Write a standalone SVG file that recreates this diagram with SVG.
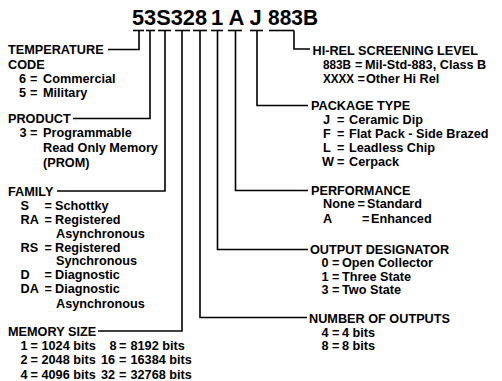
<svg xmlns="http://www.w3.org/2000/svg" width="502" height="381" viewBox="0 0 502 381">
<style>
text{font-family:"Liberation Sans",Arial,sans-serif;font-weight:bold;font-size:12.7px;fill:#000}
.t{font-size:22px}
.c line,.c polyline{stroke:#000;stroke-width:1.6;fill:none}
</style>
<rect width="502" height="381" fill="#fff"/>
<g id="partnumber">
<text class="t" x="132" y="25" textLength="75" lengthAdjust="spacingAndGlyphs">53S328</text>
<text class="t" x="211" y="25">1</text>
<text class="t" x="228.5" y="25">A</text>
<text class="t" x="249.5" y="25">J</text>
<text class="t" x="268" y="25" textLength="50" lengthAdjust="spacingAndGlyphs">883B</text>
</g>
<g class="c" id="connectors">
<line x1="133" y1="30.5" x2="144" y2="30.5"/>
<line x1="146" y1="30.5" x2="155" y2="30.5"/>
<line x1="158" y1="30.5" x2="171" y2="30.5"/>
<line x1="175" y1="30.5" x2="190" y2="30.5"/>
<line x1="193" y1="30.5" x2="207" y2="30.5"/>
<line x1="211" y1="30.5" x2="223" y2="30.5"/>
<line x1="228" y1="30.5" x2="242" y2="30.5"/>
<line x1="250" y1="30.5" x2="263" y2="30.5"/>
<line x1="269" y1="30.5" x2="294" y2="30.5"/>
<polyline points="139,30.5 139,49.5 108,49.5"/>
<polyline points="150,30.5 150,118.5 73,118.5"/>
<polyline points="165,30.5 165,191 57,191"/>
<polyline points="182,30.5 182,331 98,331"/>
<polyline points="200,30.5 200,317.5 307,317.5"/>
<polyline points="217.5,30.5 217.5,249.5 308,249.5"/>
<polyline points="235.5,30.5 235.5,190.5 308,190.5"/>
<polyline points="257,30.5 257,105.5 308,105.5"/>
<polyline points="294,30.5 294,49 310,49"/>
</g>
<g id="temperature">
<text x="8" y="54">TEMPERATURE</text>
<text x="8" y="68.5">CODE</text>
<text y="82.7"><tspan x="19">6</tspan><tspan x="30">=</tspan><tspan x="43">Commercial</tspan></text>
<text y="96.7"><tspan x="19">5</tspan><tspan x="30">=</tspan><tspan x="43">Military</tspan></text>
</g>
<g id="product">
<text x="8" y="123">PRODUCT</text>
<text y="137"><tspan x="19.5">3</tspan><tspan x="30">=</tspan><tspan x="43">Programmable</tspan></text>
<text x="43" y="152">Read Only Memory</text>
<text x="43" y="167">(PROM)</text>
</g>
<g id="family">
<text x="8" y="195.5">FAMILY</text>
<text y="209.5"><tspan x="20.5">S</tspan><tspan x="44.5">=</tspan><tspan x="55">Schottky</tspan></text>
<text y="223.5"><tspan x="20.5">RA</tspan><tspan x="44.5">=</tspan><tspan x="55">Registered</tspan></text>
<text x="56" y="237.5">Asynchronous</text>
<text y="252"><tspan x="20.5">RS</tspan><tspan x="44.5">=</tspan><tspan x="55">Registered</tspan></text>
<text x="56" y="264.5">Synchronous</text>
<text y="278.5"><tspan x="20.5">D</tspan><tspan x="44.5">=</tspan><tspan x="55">Diagnostic</tspan></text>
<text y="293.3"><tspan x="20.5">DA</tspan><tspan x="44.5">=</tspan><tspan x="55">Diagnostic</tspan></text>
<text x="56" y="307.7">Asynchronous</text>
</g>
<g id="memorysize">
<text x="8" y="335.5">MEMORY SIZE</text>
<text y="350"><tspan x="20.5">1</tspan><tspan x="30.5">=</tspan><tspan x="41.5">1024 bits</tspan><tspan x="109.5">8</tspan><tspan x="119">=</tspan><tspan x="130.5">8192 bits</tspan></text>
<text y="364"><tspan x="20.5">2</tspan><tspan x="30.5">=</tspan><tspan x="41.5">2048 bits</tspan><tspan x="101">16</tspan><tspan x="119">=</tspan><tspan x="130.5">16384 bits</tspan></text>
<text y="378.5"><tspan x="20.5">4</tspan><tspan x="30.5">=</tspan><tspan x="41.5">4096 bits</tspan><tspan x="101">32</tspan><tspan x="119">=</tspan><tspan x="130.5">32768 bits</tspan></text>
</g>
<g id="hirel">
<text x="312.5" y="54.5">HI-REL SCREENING LEVEL</text>
<text y="68.5"><tspan x="323" textLength="28" lengthAdjust="spacingAndGlyphs">883B</tspan><tspan x="355">=</tspan><tspan x="365">Mil-Std-883, Class B</tspan></text>
<text y="83"><tspan x="323" textLength="31" lengthAdjust="spacingAndGlyphs">XXXX</tspan><tspan x="357.5">=</tspan><tspan x="366">Other Hi Rel</tspan></text>
</g>
<g id="package">
<text x="311" y="110">PACKAGE TYPE</text>
<text y="123.5"><tspan x="323">J</tspan><tspan x="337">=</tspan><tspan x="349">Ceramic Dip</tspan></text>
<text y="137.5"><tspan x="323">F</tspan><tspan x="337">=</tspan><tspan x="349">Flat Pack - Side Brazed</tspan></text>
<text y="152"><tspan x="323">L</tspan><tspan x="337">=</tspan><tspan x="349">Leadless Chip</tspan></text>
<text y="166"><tspan x="322">W</tspan><tspan x="337">=</tspan><tspan x="349">Cerpack</tspan></text>
</g>
<g id="performance">
<text x="311" y="194.5">PERFORMANCE</text>
<text y="208"><tspan x="323">None</tspan><tspan x="357.5">=</tspan><tspan x="367">Standard</tspan></text>
<text y="222.5"><tspan x="323">A</tspan><tspan x="362">=</tspan><tspan x="371">Enhanced</tspan></text>
</g>
<g id="outputdesignator">
<text x="310" y="253.7">OUTPUT DESIGNATOR</text>
<text y="267"><tspan x="321.5">0</tspan><tspan x="332">=</tspan><tspan x="342">Open Collector</tspan></text>
<text y="280.5"><tspan x="321.5">1</tspan><tspan x="332">=</tspan><tspan x="342">Three State</tspan></text>
<text y="294"><tspan x="321.5">3</tspan><tspan x="332">=</tspan><tspan x="342">Two State</tspan></text>
</g>
<g id="numberofoutputs">
<text x="309" y="322.5">NUMBER OF OUTPUTS</text>
<text y="336.5"><tspan x="321.5">4</tspan><tspan x="332">=</tspan><tspan x="342">4 bits</tspan></text>
<text y="350"><tspan x="321.5">8</tspan><tspan x="332">=</tspan><tspan x="342">8 bits</tspan></text>
</g>
</svg>
